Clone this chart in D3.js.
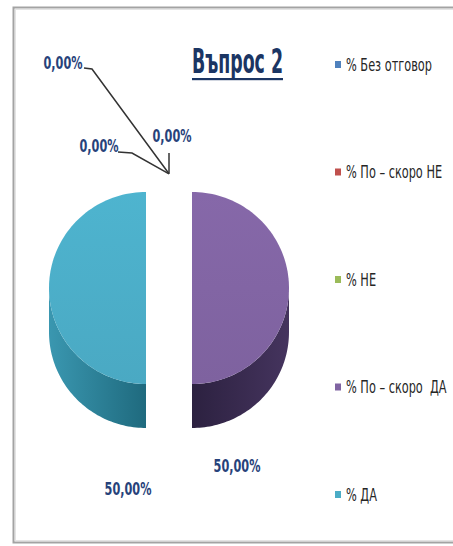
<!DOCTYPE html>
<html>
<head>
<meta charset="utf-8">
<script src="https://cdn.jsdelivr.net/npm/d3@7"></script>
<style>
  html, body { margin: 0; padding: 0; background: #fff; }
  svg { display: block; }
  text { font-family: "Liberation Sans Narrow", "DejaVu Sans Condensed", "Liberation Sans", sans-serif; }
</style>
</head>
<body>
<svg id="chart" width="453" height="546"></svg>
<script>
// ---- data ----
const title = "Въпрос 2";
const categories = ["% Без отговор", "% По – скоро НЕ", "% НЕ", "% По – скоро  ДА", "% ДА"];
const values = [0, 0, 0, 50, 50];
const colors = ["#4f81bd", "#c0504d", "#9bbb59", "#8064a2", "#4bacc6"];
const sideColors = [["#3a6491", "#2c4d72"], ["#943c3a", "#742e2c"], ["#77913f", "#5c7130"], ["#45345e", "#2c2140"], ["#3a97b0", "#1f6a7e"]];

// ---- layout ----
const W = 453, H = 546;
const cx = 169, cy = 288, rx = 97, ry = 96, depth = 44, explode = 23;
const svg = d3.select("#chart");
const defs = svg.append("defs");

// frame
svg.append("rect").attr("x", 13.5).attr("y", 7.5).attr("width", 470).attr("height", 535)
  .attr("fill", "none").attr("stroke", "#a3a3a3").attr("stroke-width", 2);
svg.append("rect").attr("x", 15.5).attr("y", 9.5).attr("width", 470).attr("height", 531)
  .attr("fill", "none").attr("stroke", "#e4e4e4").attr("stroke-width", 1);

const pie = d3.pie().sort(null).value(d => d)(values);

// angle -> ellipse point (angle clockwise from 12 o'clock)
const ex = d3.scaleLinear().domain([-1, 1]).range([-rx, rx]);
const ey = d3.scaleLinear().domain([-1, 1]).range([-ry, ry]);
function off(p) {
  const m = (p.startAngle + p.endAngle) / 2;
  return [ex(Math.sin(m)) * explode / rx, -ey(Math.cos(m)) * explode / ry];
}
function pt(o, a, dy = 0) {
  return [cx + o[0] + ex(Math.sin(a)), cy + o[1] - ey(Math.cos(a)) + dy];
}
const line = d3.line();

// side walls
pie.forEach((p, i) => {
  if (p.endAngle - p.startAngle <= 0) return;
  const o = off(p);
  const s = Math.max(p.startAngle, Math.PI / 2), e = Math.min(p.endAngle, 3 * Math.PI / 2);
  if (e <= s) return;
  const n = 60, top = [], bot = [];
  for (let k = 0; k <= n; k++) {
    const a = s + (e - s) * k / n;
    top.push(pt(o, a));
    bot.push(pt(o, a, depth));
  }
  const gid = "side" + i;
  const g = defs.append("linearGradient").attr("id", gid).attr("gradientUnits", "userSpaceOnUse")
    .attr("x1", cx + o[0] - rx).attr("x2", cx + o[0] + rx).attr("y1", 0).attr("y2", 0);
  const leftSide = o[0] < 0;
  g.append("stop").attr("offset", "0%").attr("stop-color", leftSide ? sideColors[i][0] : sideColors[i][1]);
  g.append("stop").attr("offset", "50%").attr("stop-color", sideColors[i][1]);
  g.append("stop").attr("offset", "100%").attr("stop-color", leftSide ? sideColors[i][1] : sideColors[i][0]);
  svg.append("path").attr("d", line(top.concat(bot.reverse())) + "Z").attr("fill", `url(#${gid})`);
});

// top faces
pie.forEach((p, i) => {
  if (p.endAngle - p.startAngle <= 0) return;
  const o = off(p);
  const n = 90, pts = [[cx + o[0], cy + o[1]]];
  for (let k = 0; k <= n; k++) pts.push(pt(o, p.startAngle + (p.endAngle - p.startAngle) * k / n));
  const gid = "top" + i;
  const g = defs.append("linearGradient").attr("id", gid).attr("x1", 0).attr("x2", 0).attr("y1", 0).attr("y2", 1);
  g.append("stop").attr("offset", "0%").attr("stop-color", d3.color(colors[i]).brighter(0.12));
  g.append("stop").attr("offset", "100%").attr("stop-color", d3.color(colors[i]).darker(0.05));
  svg.append("path").attr("d", line(pts) + "Z").attr("fill", `url(#${gid})`);
});

// data labels
const fmt = v => d3.format(".2f")(v).replace(".", ",") + "%";
const labelColor = "#27427a";
const labelPos = [[63, 63], [99, 146], [172, 136], [237, 466], [128, 489]];
const leaderStart = [[[84, 68], [92, 69]], [[118, 152], [132, 153]], [[169, 153]], null, null];

function fitText(sel, target) {
  const w = sel.node().getComputedTextLength();
  return target / w;
}
const labelG = svg.append("g");
const probe = labelG.append("text").attr("font-size", 18).attr("font-weight", "bold").text(fmt(0));
const lsx = fitText(probe, 39);
probe.remove();

pie.forEach((p, i) => {
  if (leaderStart[i]) {
    const o = off(p);
    const anchor = [cx + o[0] + ex(Math.sin(p.startAngle)) * 0.95, cy + o[1] - ey(Math.cos(p.startAngle)) * 0.95];
    svg.append("path").attr("d", line(leaderStart[i].concat([anchor])))
      .attr("fill", "none").attr("stroke", "#333").attr("stroke-width", 1.5);
  }
  const [x, y] = labelPos[i];
  labelG.append("text")
    .attr("transform", `translate(${x},${y}) scale(${lsx},1)`)
    .attr("text-anchor", "middle").attr("dominant-baseline", "central")
    .attr("font-size", 18).attr("font-weight", "bold").attr("fill", labelColor)
    .text(fmt(p.data));
});

// title
const tG = svg.append("g");
const tt = tG.append("text").attr("font-size", 34).attr("font-weight", "bold").attr("fill", "#1b3563").text(title);
const tsx = fitText(tt, 91);
tt.attr("transform", `translate(192,73) scale(${tsx},1)`);
tG.append("rect").attr("x", 192).attr("y", 78).attr("width", 91).attr("height", 2.2).attr("fill", "#1b3563");

// legend
const ly = d3.scalePoint().domain(categories).range([65, 495]);
const legend = svg.append("g");
const lp = legend.append("text").attr("font-size", 17).text(categories[0]);
const gsx = fitText(lp, 86);
lp.remove();
categories.forEach((c, i) => {
  legend.append("rect").attr("x", 335).attr("y", ly(c) - 4).attr("width", 6).attr("height", 7).attr("fill", colors[i]);
  legend.append("text")
    .attr("transform", `translate(346,${ly(c)}) scale(${gsx},1)`)
    .attr("dominant-baseline", "central")
    .attr("font-size", 17).attr("fill", "#262626")
    .attr("xml:space", "preserve").style("white-space", "pre")
    .text(c);
});
</script>
</body>
</html>
